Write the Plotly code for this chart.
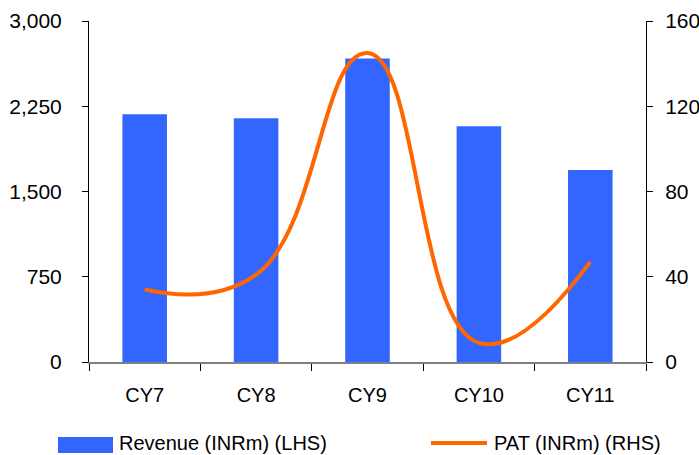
import plotly.graph_objects as go

# Yearly figures
years = ["CY7", "CY8", "CY9", "CY10", "CY11"]
revenue_inrm = [2180, 2145, 2670, 2075, 1690]   # left axis
pat_inrm = [34, 41, 145, 9, 47]                 # right axis

left_ticks = [0, 750, 1500, 2250, 3000]
right_ticks = [0, 40, 80, 120, 160]

BLUE = "#3366FF"
ORANGE = "#FF6600"
FONT = "Liberation Sans, Arial, sans-serif"

fig = go.Figure()

fig.add_trace(go.Bar(
    x=years, y=revenue_inrm, name="Revenue (INRm) (LHS)",
    marker=dict(color=BLUE, line=dict(width=0)),
    yaxis="y", showlegend=False,
))

fig.add_trace(go.Scatter(
    x=years, y=pat_inrm, name="PAT (INRm) (RHS)", mode="lines",
    line=dict(color=ORANGE, width=4, shape="spline", smoothing=1.3),
    yaxis="y2", showlegend=False,
))

fig.update_layout(
    width=699, height=455,
    margin=dict(l=89, r=53, t=21, b=93),
    paper_bgcolor="white", plot_bgcolor="white",
    font=dict(family=FONT, size=20, color="black"),
    bargap=0.6,
    xaxis=dict(
        type="category", range=[-0.5, 4.5], automargin=False,
        showline=True, linecolor="#808080", linewidth=2,
        ticks="outside", tickson="boundaries", ticklen=7, tickcolor="black",
        tickwidth=1, showgrid=False, zeroline=False,
        ticklabelstandoff=14,
    ),
    yaxis=dict(
        range=[0, 3000], tickvals=left_ticks, tickformat=",", automargin=False,
        showline=True, linecolor="black", linewidth=1,
        ticks="outside", ticklen=6, tickcolor="black",
        showgrid=False, zeroline=False, ticklabelstandoff=16,
        tickfont=dict(size=21),
    ),
    yaxis2=dict(
        range=[0, 160], tickvals=right_ticks, overlaying="y", side="right",
        automargin=False,
        showline=True, linecolor="black", linewidth=1,
        ticks="outside", ticklen=6, tickcolor="black",
        showgrid=False, zeroline=False, ticklabelstandoff=8,
        tickfont=dict(size=21),
    ),
)

# Legend drawn below the plot area
fig.add_shape(type="rect", xref="paper", yref="paper",
              x0=(58 - 89) / 557, x1=(113 - 89) / 557,
              y0=-(437 - 362) / 341, y1=-(453 - 362) / 341,
              fillcolor=BLUE, line=dict(width=0))
fig.add_annotation(xref="paper", yref="paper",
                   x=(117 - 89) / 557, y=-(443 - 362) / 341,
                   text="Revenue (INRm) (LHS)", showarrow=False,
                   xanchor="left", yanchor="middle",
                   font=dict(family=FONT, size=20, color="black"))
fig.add_shape(type="line", xref="paper", yref="paper",
              x0=(431 - 89) / 557, x1=(487 - 89) / 557,
              y0=-(443 - 362) / 341, y1=-(443 - 362) / 341,
              line=dict(color=ORANGE, width=4))
fig.add_annotation(xref="paper", yref="paper",
                   x=(492 - 89) / 557, y=-(443 - 362) / 341,
                   text="PAT (INRm) (RHS)", showarrow=False,
                   xanchor="left", yanchor="middle",
                   font=dict(family=FONT, size=20, color="black"))

fig.write_html("out.html")
